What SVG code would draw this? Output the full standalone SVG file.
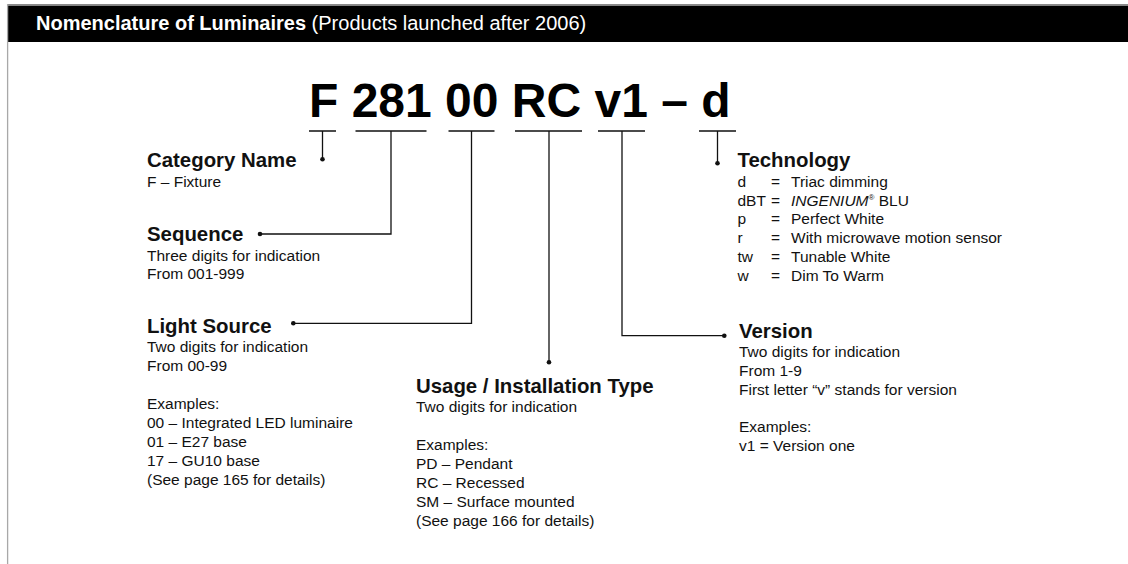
<svg xmlns="http://www.w3.org/2000/svg" width="1128" height="564" viewBox="0 0 1128 564">
<style>
text{font-family:"Liberation Sans",Arial,sans-serif;fill:#111}
.h{font-size:20.4px;font-weight:bold}
.b{font-size:15.5px}
.t{font-size:20px;fill:#fff}
.code{font-size:48px;font-weight:bold;fill:#000}
.ln{stroke:#111;stroke-width:1.3;fill:none}
.dot{fill:#111}
</style>
<rect x="0" y="0" width="1128" height="564" fill="#fff"/>
<g id="header">
<rect x="8" y="5.5" width="1120" height="36.5" fill="#000"/>
<line x1="7" y1="4.7" x2="1128" y2="4.7" stroke="#8a8a8a" stroke-width="1.6"/>
<line x1="7.6" y1="4" x2="7.6" y2="564" stroke="#a8a8a8" stroke-width="1.3"/>
<text class="t" x="36" y="30"><tspan font-weight="bold">Nomenclature of Luminaires</tspan> (Products launched after 2006)</text>
</g>
<g id="code">
<text class="code" x="309" y="116.7">F 281 00 RC v1 – d</text>
</g>
<g id="connectors">
<path class="ln" d="M309 131H336M355.5 131H426.5M448.5 131H494.5M515 131H582M598 131H645M699 131H736"/>
<path class="ln" d="M322.5 131V159.3"/>
<path class="ln" d="M391 131V234H260"/>
<path class="ln" d="M471.5 131V323.3H293.3"/>
<path class="ln" d="M549 131V362.3"/>
<path class="ln" d="M622 131V335.7H724.3"/>
<path class="ln" d="M717.5 131V163.3"/>
<circle class="dot" cx="322.5" cy="159.3" r="2.3"/>
<circle class="dot" cx="260" cy="234" r="2.3"/>
<circle class="dot" cx="293.3" cy="323.3" r="2.3"/>
<circle class="dot" cx="549" cy="362.3" r="2.3"/>
<circle class="dot" cx="724.3" cy="335.7" r="2.3"/>
<circle class="dot" cx="717.5" cy="163.3" r="2.3"/>
</g>
<g id="category">
<text class="h" x="147" y="167.3">Category Name</text>
<text class="b" x="147" y="187">F – Fixture</text>
</g>
<g id="sequence">
<text class="h" x="147" y="241">Sequence</text>
<text class="b" x="147" y="260.5">Three digits for indication</text>
<text class="b" x="147" y="279.3">From 001-999</text>
</g>
<g id="light-source">
<text class="h" x="147" y="332.7">Light Source</text>
<text class="b" x="147" y="352.3">Two digits for indication</text>
<text class="b" x="147" y="371.2">From 00-99</text>
<text class="b" x="147" y="409">Examples:</text>
<text class="b" x="147" y="427.9">00 – Integrated LED luminaire</text>
<text class="b" x="147" y="446.8">01 – E27 base</text>
<text class="b" x="147" y="465.7">17 – GU10 base</text>
<text class="b" x="147" y="484.6">(See page 165 for details)</text>
</g>
<g id="usage">
<text class="h" x="416" y="392.7">Usage / Installation Type</text>
<text class="b" x="416" y="411.7">Two digits for indication</text>
<text class="b" x="416" y="449.7">Examples:</text>
<text class="b" x="416" y="468.7">PD – Pendant</text>
<text class="b" x="416" y="487.7">RC – Recessed</text>
<text class="b" x="416" y="506.7">SM – Surface mounted</text>
<text class="b" x="416" y="525.7">(See page 166 for details)</text>
</g>
<g id="version">
<text class="h" x="739" y="338.3">Version</text>
<text class="b" x="739" y="357">Two digits for indication</text>
<text class="b" x="739" y="375.8">From 1-9</text>
<text class="b" x="739" y="394.6">First letter “v” stands for version</text>
<text class="b" x="739" y="432.2">Examples:</text>
<text class="b" x="739" y="451">v1 = Version one</text>
</g>
<g id="technology">
<text class="h" x="737.5" y="167.3">Technology</text>
<text class="b" x="737.5" y="187">d</text><text class="b" x="771" y="187">=</text><text class="b" x="791" y="187">Triac dimming</text>
<text class="b" x="737.5" y="205.7">dBT</text><text class="b" x="771" y="205.7">=</text><text class="b" x="791" y="205.7"><tspan font-style="italic">INGENIUM</tspan><tspan font-size="8px" dy="-6">®</tspan><tspan dy="6"> BLU</tspan></text>
<text class="b" x="737.5" y="224.4">p</text><text class="b" x="771" y="224.4">=</text><text class="b" x="791" y="224.4">Perfect White</text>
<text class="b" x="737.5" y="243.1">r</text><text class="b" x="771" y="243.1">=</text><text class="b" x="791" y="243.1">With microwave motion sensor</text>
<text class="b" x="737.5" y="261.8">tw</text><text class="b" x="771" y="261.8">=</text><text class="b" x="791" y="261.8">Tunable White</text>
<text class="b" x="737.5" y="280.5">w</text><text class="b" x="771" y="280.5">=</text><text class="b" x="791" y="280.5">Dim To Warm</text>
</g>
</svg>
